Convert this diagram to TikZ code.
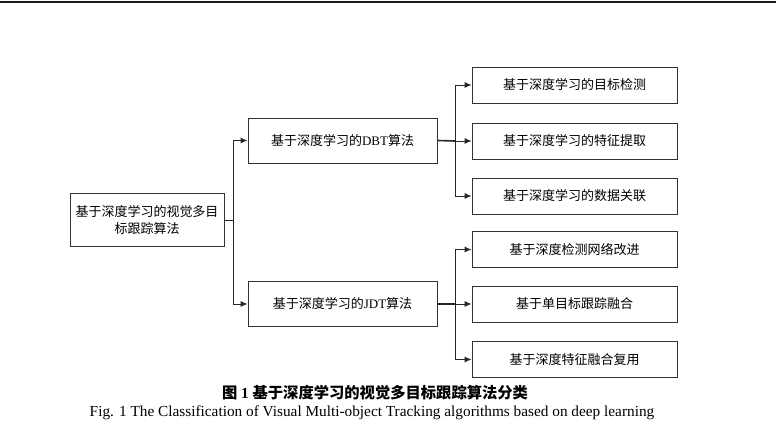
\documentclass[tikz,border=0pt]{standalone}
\usepackage{fontspec}
\setmainfont{Liberation Serif}
\newfontfamily\cjk{Noto Sans CJK SC}
\usetikzlibrary{arrows.meta}
\begin{document}
\begin{tikzpicture}[x=1pt,y=-1pt,
  box/.style={draw=black!80, line width=0.95pt, inner sep=0pt, align=center, font=\fontsize{13}{17}\selectfont},
  rbox/.style={box, minimum width=205pt, minimum height=36pt},
  mbox/.style={box, minimum width=189pt, minimum height=45pt},
  conn/.style={draw=black!85, line width=0.95pt},
  arr/.style={conn, -{Latex[length=7pt,width=6pt]}}]
\useasboundingbox (0,0) rectangle (776,441);
\fill[white] (0,0) rectangle (776,441);
\coordinate (tl) at (0,2.5);
\coordinate (tr) at (776,2.5);
\draw[line width=2pt, black!90] (tl) -- (tr);

\node[box, minimum width=154pt, minimum height=53pt, text width=146pt] (root) at (147,220) {\cjk 基于深度学习的视觉多目\\ \cjk 标跟踪算法};
\node[mbox] (dbt) at (342.5,140.5) {{\cjk 基于深度学习的}DBT{\cjk 算法}};
\node[mbox] (jdt) at (342.5,304) {{\cjk 基于深度学习的}JDT{\cjk 算法}};

\node[rbox] (r1) at (574.5,85) {\cjk 基于深度学习的目标检测};
\node[rbox] (r2) at (574.5,141) {\cjk 基于深度学习的特征提取};
\node[rbox] (r3) at (574.5,196) {\cjk 基于深度学习的数据关联};
\node[rbox] (r4) at (574.5,249.5) {\cjk 基于深度检测网络改进};
\node[rbox] (r5) at (574.5,304) {\cjk 基于单目标跟踪融合};
\node[rbox] (r6) at (574.5,359.5) {\cjk 基于深度特征融合复用};

\coordinate (j1) at (233,220);
\coordinate (j2) at (455,141);
\coordinate (j3) at (455,304);

\draw[conn] (root.east) -- (j1);
\draw[arr] (j1) |- (dbt.west);
\draw[arr] (j1) |- (jdt.west);

\draw[conn, line width=1.6pt] (dbt.east) -- (j2);
\draw[arr] (j2) |- (r1.west);
\draw[arr] (j2) -- (r2.west);
\draw[arr] (j2) |- (r3.west);

\draw[conn, line width=1.6pt] (jdt.east) -- (j3);
\draw[arr] (j3) |- (r4.west);
\draw[arr] (j3) -- (r5.west);
\draw[arr] (j3) |- (r6.west);

\node[font=\fontsize{15.3}{17}\selectfont\bfseries] (cap1) at (375,393) {{\cjk 图} 1 {\cjk 基于深度学习的视觉多目标跟踪算法分类}};
\node[font=\fontsize{15.3}{17}\selectfont] (cap2) at (372,413) {Fig. 1 The Classification of Visual Multi-object Tracking algorithms based on deep learning};
\end{tikzpicture}
\end{document}
